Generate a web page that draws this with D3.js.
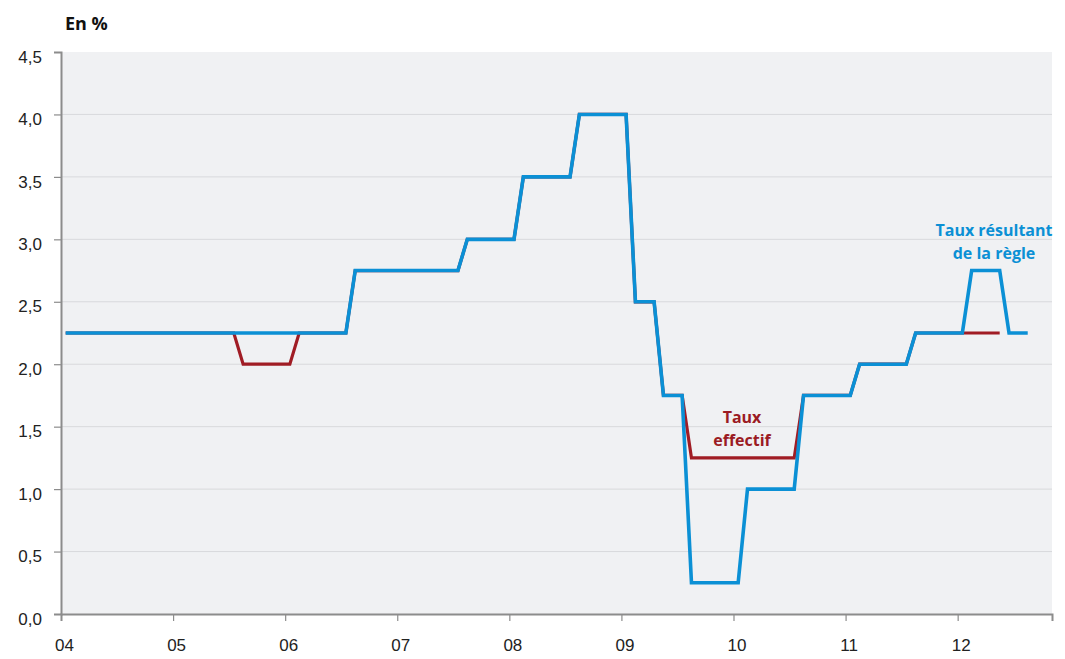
<!DOCTYPE html>
<html>
<head>
<meta charset="utf-8">
<script src="https://cdn.jsdelivr.net/npm/d3@7"></script>
<style>
  body { margin: 0; background: #fff; }
  svg { display: block; font-family: "Open Sans", "Noto Sans", sans-serif; }
</style>
</head>
<body>
<script>
const w = 1065;
const h = 659;

// months counted from Jan 2004 (0 = Jan 04), vertices of each line
const regleMonths = [0, 30, 31, 42, 43, 48, 49, 54, 55, 60, 61, 63, 64, 66, 67, 72, 73, 78, 79, 84, 85, 90, 91, 96, 97, 100, 101, 103];
const regleValues = [2.25, 2.25, 2.75, 2.75, 3.0, 3.0, 3.5, 3.5, 4.0, 4.0, 2.5, 2.5, 1.75, 1.75, 0.25, 0.25, 1.0, 1.0, 1.75, 1.75, 2.0, 2.0, 2.25, 2.25, 2.75, 2.75, 2.25, 2.25];

const effectifMonths = [0, 18, 19, 24, 25, 30, 31, 42, 43, 48, 49, 54, 55, 60, 61, 63, 64, 66, 67, 78, 79, 84, 85, 90, 91, 100];
const effectifValues = [2.25, 2.25, 2.0, 2.0, 2.25, 2.25, 2.75, 2.75, 3.0, 3.0, 3.5, 3.5, 4.0, 4.0, 2.5, 2.5, 1.75, 1.75, 1.25, 1.25, 1.75, 1.75, 2.0, 2.0, 2.25, 2.25];

const yearLabels = ["04", "05", "06", "07", "08", "09", "10", "11", "12"];
const yTicks = [0, 0.5, 1.0, 1.5, 2.0, 2.5, 3.0, 3.5, 4.0, 4.5];

const margin = {left: 61, right: 13, top: 52, bottom: 45};

const x = d3.scaleLinear()
  .domain([0, 106.1])   // months
  .range([margin.left, w - margin.right]);
const y = d3.scaleLinear()
  .domain([0, 4.5])
  .range([h - margin.bottom, margin.top]);

const fmt = d => d.toFixed(1).replace(".", ",");

let svg = d3.select("body").append("svg")
  .attr("width", w)
  .attr("height", h);

// plot background
svg.append("rect")
  .attr("x", x(0)).attr("y", y(4.5))
  .attr("width", x.range()[1] - x(0))
  .attr("height", y(0) - y(4.5))
  .attr("fill", "#f0f1f3");

// gridlines
svg.append("g")
  .selectAll("line")
  .data(yTicks.filter(d => d > 0 && d < 4.5))
  .join("line")
  .attr("x1", x(0)).attr("x2", x.range()[1])
  .attr("y1", d => y(d)).attr("y2", d => y(d))
  .attr("stroke", "#d8d9dc")
  .attr("stroke-width", 1);

// y axis
const yAxis = svg.append("g")
  .attr("transform", `translate(${x(0)},0)`)
  .call(d3.axisLeft(y).tickValues(yTicks).tickFormat(fmt).tickSize(7).tickPadding(12));
yAxis.select(".domain").attr("stroke", "#8c8c8c").attr("stroke-width", 2);
yAxis.selectAll(".tick line").attr("stroke", "#8c8c8c").attr("stroke-width", 1.2)
  .attr("display", d => d == 4.5 || d == 0 ? "none" : null);
yAxis.selectAll(".tick text")
  .attr("fill", "#222").attr("font-size", 17).attr("dy", "0.6em");

// x axis
const xAxis = svg.append("g")
  .attr("transform", `translate(0,${y(0)})`)
  .call(d3.axisBottom(x)
    .tickValues(yearLabels.map((d, i) => i * 12))
    .tickFormat((d, i) => yearLabels[i])
    .tickSize(7).tickPadding(18));
xAxis.select(".domain").attr("stroke", "#8c8c8c").attr("stroke-width", 2);
xAxis.selectAll(".tick line").attr("stroke", "#8c8c8c").attr("stroke-width", 1.2)
  .attr("display", d => d == 0 ? "none" : null);
xAxis.selectAll(".tick text")
  .attr("fill", "#222").attr("font-size", 17).attr("dx", 3);

// lines (points placed mid-month)
const line = d3.line()
  .x(d => x(d[0] + 0.5))
  .y(d => y(d[1]));

svg.append("path")
  .datum(d3.zip(effectifMonths, effectifValues))
  .attr("d", line)
  .attr("fill", "none")
  .attr("stroke", "#a01c24")
  .attr("stroke-width", 3.2);

svg.append("path")
  .datum(d3.zip(regleMonths, regleValues))
  .attr("d", line)
  .attr("fill", "none")
  .attr("stroke", "#0b90d5")
  .attr("stroke-width", 3.6);

// labels
svg.append("text")
  .attr("x", 65).attr("y", 30)
  .attr("font-size", 18).attr("font-weight", "bold").attr("fill", "#111")
  .text("En %");

const effLabel = svg.append("text")
  .attr("text-anchor", "middle")
  .attr("font-size", 16).attr("font-weight", "bold").attr("fill", "#9b1b23");
effLabel.append("tspan").attr("x", 742).attr("y", 423).text("Taux");
effLabel.append("tspan").attr("x", 742).attr("y", 446).text("effectif");

const regLabel = svg.append("text")
  .attr("text-anchor", "middle")
  .attr("font-size", 16).attr("font-weight", "bold").attr("fill", "#0b90d5");
regLabel.append("tspan").attr("x", 994).attr("y", 236).text("Taux résultant");
regLabel.append("tspan").attr("x", 994).attr("y", 259).text("de la règle");
</script>
</body>
</html>
